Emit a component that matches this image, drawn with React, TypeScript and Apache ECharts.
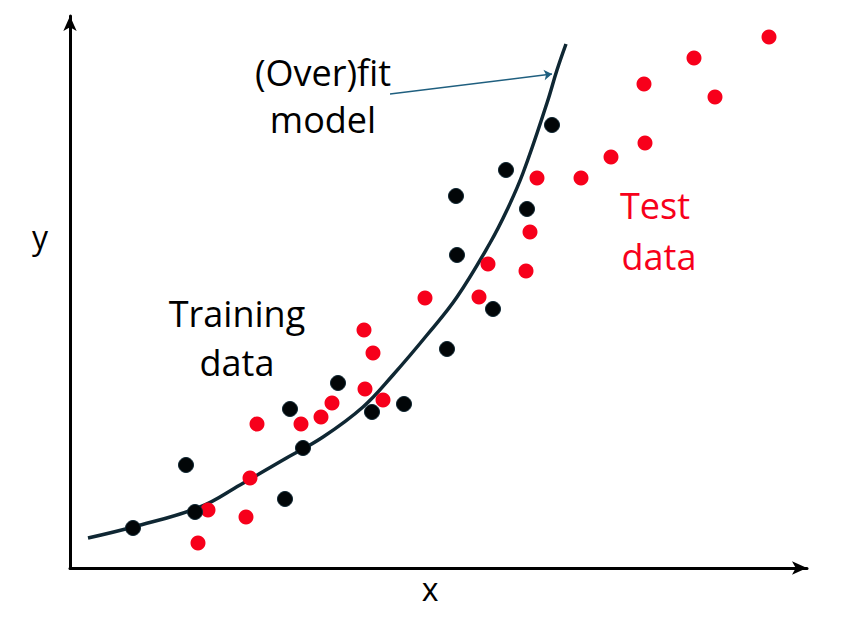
import React, { useEffect, useRef } from "react";
import * as echarts from "echarts";

// Training data (black) — x, y (axis units)
const trainX = [63, 116, 125, 220, 233, 215, 268, 302, 334, 377, 386, 387, 423, 436, 457, 482];
const trainY = [40, 103, 56, 159, 120, 69, 185, 156, 164, 219, 372, 313, 259, 398, 359, 443];

// Test data (red)
const testX = [187, 138, 128, 180, 176, 231, 251, 262, 294, 303, 295, 313, 355, 409, 418, 456, 460, 467, 511, 541, 575, 574, 624, 645, 699];
const testY = [144, 58, 25, 90, 51, 144, 151, 165, 238, 215, 179, 168, 270, 271, 304, 297, 336, 390, 390, 411, 425, 484, 510, 471, 531];

// (Over)fit model curve
const curveX = [18, 63, 130, 170, 213, 253, 293, 323, 357, 387, 420, 437, 453, 477, 487, 496];
const curveY = [30, 41, 61, 83, 108, 131, 161, 193, 233, 271, 325, 358, 395, 465, 498, 524];

// annotation arrow from label to curve
const arrowFrom = [320, 474];
const arrowTo = [482, 494];

const FONT = "Open Sans";

export default function App() {
  const ref = useRef<HTMLDivElement>(null);
  useEffect(() => {
    document.body.style.margin = "0";
    const chart = echarts.init(ref.current!, null, { renderer: "svg" });
    const zip = (xs: number[], ys: number[]) => xs.map((x, i) => [x, ys[i]]);
    const axisCommon = {
      type: "value" as const,
      axisTick: { show: false },
      axisLabel: { show: false },
      splitLine: { show: false },
      axisLine: {
        show: true,
        symbol: ["none", "arrow"],
        symbolSize: [10, 15],
        lineStyle: { color: "#000", width: 3 },
      },
    };
    chart.setOption({
      animation: false,
      backgroundColor: "#fff",
      grid: { left: 70, right: 34, top: 16, bottom: 57 },
      xAxis: { ...axisCommon, min: 0, max: 737 },
      yAxis: { ...axisCommon, min: 0, max: 552 },
      series: [
        {
          name: "model",
          type: "line",
          data: zip(curveX, curveY),
          smooth: 0.4,
          showSymbol: false,
          symbol: "none",
          lineStyle: { color: "#0f2733", width: 3.5 },
          z: 3,
        },
        {
          name: "Test data",
          type: "scatter",
          data: zip(testX, testY),
          symbolSize: 15,
          itemStyle: { color: "#f7001b", opacity: 1 },
          z: 4,
        },
        {
          name: "Training data",
          type: "scatter",
          data: zip(trainX, trainY),
          symbolSize: 15,
          itemStyle: { color: "#020608", borderColor: "#0f2733", borderWidth: 1, opacity: 1 },
          z: 5,
        },
        {
          name: "arrow",
          type: "lines",
          coordinateSystem: "cartesian2d",
          symbol: ["none", "arrow"],
          symbolSize: 8,
          lineStyle: { color: "#1f5f7f", width: 1.5, opacity: 1 },
          data: [{ coords: [arrowFrom, arrowTo] }],
          z: 6,
        },
      ],
      graphic: [
        { type: "text", x: 323, y: 72, style: { text: "(Over)fit", fontFamily: FONT, fontSize: 36, fill: "#000", align: "center", verticalAlign: "middle" } },
        { type: "text", x: 323, y: 119, style: { text: "model", fontFamily: FONT, fontSize: 36, fill: "#000", align: "center", verticalAlign: "middle" } },
        { type: "text", x: 237, y: 313, style: { text: "Training", fontFamily: FONT, fontSize: 36, fill: "#000", align: "center", verticalAlign: "middle" } },
        { type: "text", x: 237, y: 362, style: { text: "data", fontFamily: FONT, fontSize: 36, fill: "#000", align: "center", verticalAlign: "middle" } },
        { type: "text", x: 655, y: 205, style: { text: "Test", fontFamily: FONT, fontSize: 36, fill: "#f7001b", align: "center", verticalAlign: "middle" } },
        { type: "text", x: 659, y: 256, style: { text: "data", fontFamily: FONT, fontSize: 36, fill: "#f7001b", align: "center", verticalAlign: "middle" } },
        { type: "text", x: 40, y: 236, style: { text: "y", fontFamily: FONT, fontSize: 32, fill: "#000", align: "center", verticalAlign: "middle" } },
        { type: "text", x: 430, y: 588, style: { text: "x", fontFamily: FONT, fontSize: 32, fill: "#000", align: "center", verticalAlign: "middle" } },
      ],
    });
    return () => chart.dispose();
  }, []);
  return <div ref={ref} style={{ width: 841, height: 625 }} />;
}
